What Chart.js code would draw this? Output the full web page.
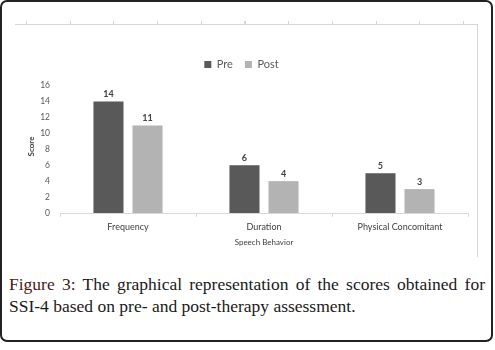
<!DOCTYPE html>
<html>
<head>
<meta charset="utf-8">
<script src="https://cdn.jsdelivr.net/npm/chart.js@4"></script>
<style>
html,body{margin:0;padding:0;background:#fff;}
#outer{position:absolute;left:0;top:0;width:489px;height:338px;border:2px solid #222;border-radius:7px;}
#frame{position:absolute;left:15px;top:24px;width:462px;height:232px;border-top:1px solid #d6d6d6;border-right:1px solid #d6d6d6;}
#ticks{position:absolute;left:26px;top:21px;width:440px;height:3px;
 background:repeating-linear-gradient(to right,#d6d6d6 0,#d6d6d6 1px,transparent 1px,transparent 43.7px);}
#wrap{position:absolute;left:15px;top:25px;width:462px;height:231px;}
#cap{position:absolute;left:9px;top:273px;width:476px;font-family:"Liberation Serif","DejaVu Serif",serif;font-size:17.5px;line-height:22px;color:#1a1a1a;text-align:justify;text-align-last:left;}
#cap b{color:#4a1a14;font-weight:normal;}
</style>
</head>
<body>
<div id="outer"></div>
<div id="frame"></div>
<div id="ticks"></div>
<div id="wrap"><canvas id="c"></canvas></div>
<div id="cap"><b>Figure 3:</b> The graphical representation of the scores obtained for SSI-4 based on pre- and post-therapy assessment.</div>
<script>
const categories = ["Frequency", "Duration", "Physical Concomitant"];
const preValues = [14, 6, 5];
const postValues = [11, 4, 3];
const seriesNames = ["Pre", "Post"];
const yTicks = [0, 2, 4, 6, 8, 10, 12, 14, 16];

const labelPlugin = {
  id: 'valueLabels',
  afterDatasetsDraw(chart) {
    const ctx = chart.ctx;
    ctx.save();
    ctx.font = 'bold 9px Lato, "Open Sans", sans-serif';
    ctx.fillStyle = '#404040';
    ctx.textAlign = 'center';
    ctx.textBaseline = 'bottom';
    chart.data.datasets.forEach((ds, i) => {
      chart.getDatasetMeta(i).data.forEach((bar, j) => {
        ctx.fillText(String(ds.data[j]), bar.x, bar.y - 3);
      });
    });
    ctx.restore();
  }
};

new Chart(document.getElementById('c'), {
  type: 'bar',
  data: {
    labels: categories,
    datasets: [
      { label: seriesNames[0], data: preValues, backgroundColor: '#595959' },
      { label: seriesNames[1], data: postValues, backgroundColor: '#b3b3b3' }
    ]
  },
  options: {
    responsive: true,
    maintainAspectRatio: false,
    animation: false,
    categoryPercentage: 0.574,
    barPercentage: 0.77,
    layout: { padding: { top: 22, right: 9, bottom: 8.6, left: 0 } },
    plugins: {
      legend: {
        position: 'top',
        labels: {
          boxWidth: 7, boxHeight: 7, padding: 12,
          color: '#595959',
          font: { family: 'Lato, "Open Sans", sans-serif', size: 11 }
        }
      },
      tooltip: { enabled: false }
    },
    scales: {
      x: {
        grid: { display: true, drawOnChartArea: false, drawTicks: true, tickLength: 4, color: '#d9d9d9', offset: true },
        border: { display: true, color: '#d9d9d9' },
        ticks: { color: '#404040', font: { family: 'Lato, "Open Sans", sans-serif', size: 9 }, padding: 5 },
        title: { display: true, text: 'Speech Behavior', color: '#404040', font: { family: 'Lato, "Open Sans", sans-serif', size: 8 }, padding: { top: 0, bottom: 0 } }
      },
      y: {
        min: 0, max: 16.7,
        afterBuildTicks(axis) { axis.ticks = yTicks.map(v => ({ value: v })); },
        afterFit(axis) { axis.width = 45; },
        grid: { display: false, drawTicks: false, tickLength: 0 },
        border: { display: false },
        ticks: { color: '#595959', font: { family: 'Lato, "Open Sans", sans-serif', size: 8.5 }, padding: 10 },
        title: { display: true, text: 'Score', color: '#404040', font: { family: 'Lato, "Open Sans", sans-serif', size: 8, weight: 'bold' }, padding: { top: 12, bottom: 0 } }
      }
    }
  },
  plugins: [labelPlugin]
});
</script>
</body>
</html>
